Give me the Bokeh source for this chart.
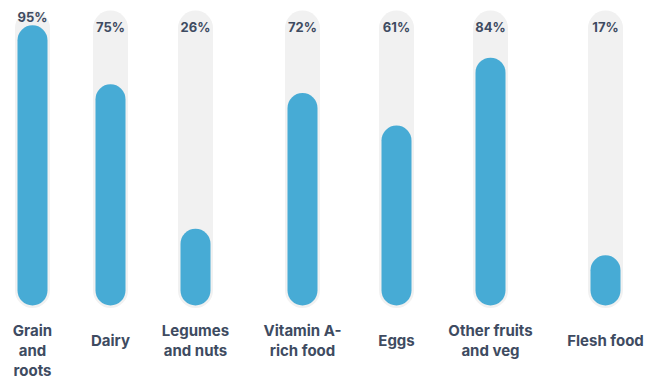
from bokeh.plotting import figure
from bokeh.models import Range1d
from bokeh.core.properties import value
from bokeh.embed import file_html
from bokeh.resources import INLINE

# ---- data ----
categories = ["Grain\nand\nroots", "Dairy", "Legumes\nand nuts", "Vitamin A-\nrich food",
              "Eggs", "Other fruits\nand veg", "Flesh food"]
percent = [95, 75, 26, 72, 61, 84, 17]

# ---- layout (page-pixel slot centres, styles) ----
slot_x = [32, 110, 195, 302, 396, 490, 605]
W, H = 648, 388
BASE = 305          # page y of bar bottom
SCALE = 2.95        # px per percent
BAR_W, TRACK_W = 30, 35
BAR_COLOR = "#47abd5"
TRACK_COLOR = "#f1f1f1"
TEXT_COLOR = "#3e4b61"
FONT = "Inter"

def page_to_y(py):
    return (BASE - py) / SCALE

p = figure(width=W, height=H, output_backend="svg", toolbar_location=None,
           x_range=Range1d(0, W),
           y_range=Range1d(page_to_y(H), page_to_y(0)),
           min_border=0, outline_line_color=None, background_fill_color="white")
p.axis.visible = False
p.grid.visible = False

bar_cap = (BAR_W / 2) / SCALE
track_cap = (TRACK_W / 2) / SCALE

# tracks
p.segment(x0=slot_x, x1=slot_x, y0=[bar_cap] * len(percent), y1=[100 - track_cap] * len(percent),
          line_width=TRACK_W, line_color=TRACK_COLOR, line_cap="round")
# bars
p.segment(x0=slot_x, x1=slot_x, y0=[bar_cap] * len(percent), y1=[v - bar_cap for v in percent],
          line_width=BAR_W, line_color=BAR_COLOR, line_cap="round")

# percent labels
lab_y = [max(page_to_y(26), v + 8 / SCALE) for v in percent]
p.text(x=slot_x, y=lab_y, text=[f"{v}%" for v in percent],
       text_align="center", text_baseline="middle", text_color=TEXT_COLOR,
       text_font=value(FONT), text_font_style="bold", text_font_size="13px")

# category labels (one glyph per line)
xs, ys, ts = [], [], []
for x, c in zip(slot_x, categories):
    lines = c.split("\n")
    n = len(lines)
    first = max(330, 340 - 10 * (n - 1))
    for i, ln in enumerate(lines):
        xs.append(x)
        ys.append(page_to_y(first + 20 * i))
        ts.append(ln)
p.text(x=xs, y=ys, text=ts, text_align="center", text_baseline="middle",
       text_color=TEXT_COLOR, text_font=value(FONT), text_font_style="bold",
       text_font_size="15px")

open("out.html", "w").write(file_html(p, INLINE))
